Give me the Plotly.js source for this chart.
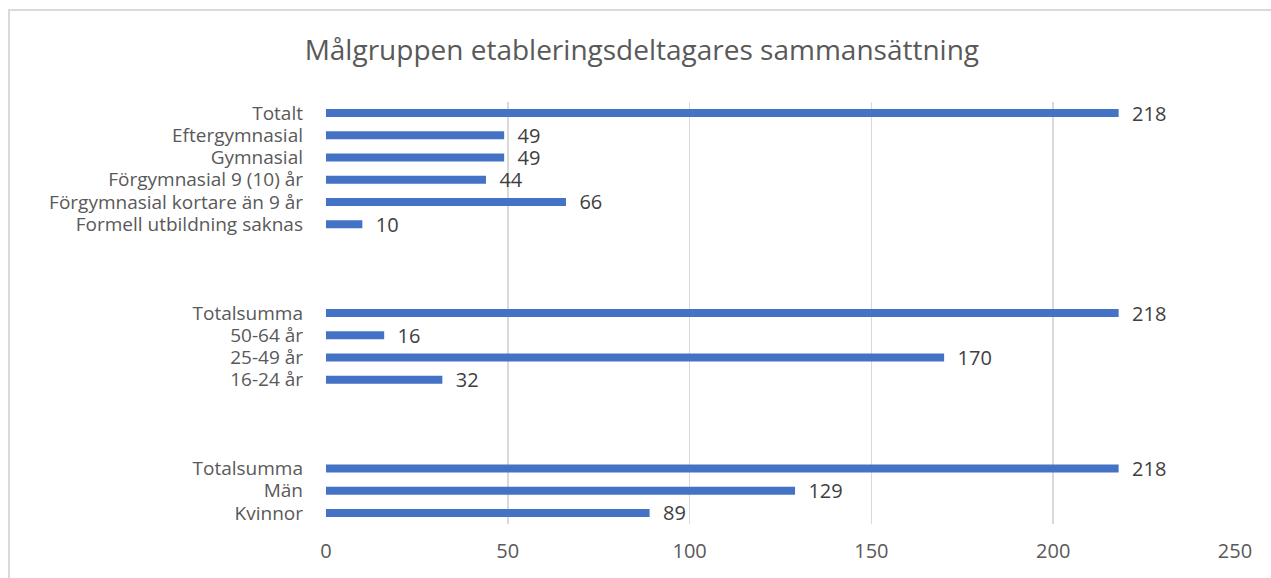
<!DOCTYPE html>
<html>
<head>
<meta charset="utf-8">
<script src="https://cdn.plot.ly/plotly-3.0.1.min.js"></script>
<style>
html,body{margin:0;padding:0;background:#fff;}
#chart{width:1271px;height:578px;}
#frame{position:absolute;left:8px;top:9px;width:1280px;height:600px;border-left:2px solid #d9d9d9;border-top:2px solid #d9d9d9;pointer-events:none;}
</style>
</head>
<body>
<div id="chart"></div>
<div id="frame"></div>
<script>
// Categories listed top to bottom (blank entries are the gaps between groups)
const categories = [
  "Totalt",
  "Eftergymnasial",
  "Gymnasial",
  "Förgymnasial 9 (10) år",
  "Förgymnasial kortare än 9 år",
  "Formell utbildning saknas",
  " ", "  ", "   ",
  "Totalsumma",
  "50-64 år",
  "25-49 år",
  "16-24 år",
  "    ", "     ", "      ",
  "Totalsumma\u200b",
  "Män",
  "Kvinnor"
];
const values = [218, 49, 49, 44, 66, 10, null, null, null, 218, 16, 170, 32, null, null, null, 218, 129, 89];
const xTicks = [0, 50, 100, 150, 200, 250];

const labels = values.map(v => v === null ? "" : "\u00a0\u00a0" + v);

const trace = {
  type: "bar",
  orientation: "h",
  y: categories,
  x: values,
  text: labels,
  textposition: "outside",
  constraintext: "none",
  textfont: {family: "Open Sans", size: 20, color: "#404040"},
  cliponaxis: false,
  marker: {color: "#4472C4"},
  hoverinfo: "none"
};

const layout = {
  width: 1271,
  height: 578,
  margin: {l: 326, r: 36, t: 102, b: 54},
  paper_bgcolor: "#ffffff",
  plot_bgcolor: "#ffffff",
  bargap: 0.64,
  showlegend: false,
  title: {
    text: "Målgruppen etableringsdeltagares sammansättning",
    font: {family: "Open Sans", size: 28, color: "#595959"},
    x: 0.505, xanchor: "center",
    y: 1 - 50/578, yanchor: "middle", yref: "container"
  },
  xaxis: {
    range: [0, 250],
    tickvals: xTicks,
    ticktext: xTicks.map(String),
    showgrid: true,
    gridcolor: "#d9d9d9",
    gridwidth: 1.5,
    zeroline: false,
    showline: false,
    ticks: "",
    ticklabelstandoff: 13,
    tickfont: {family: "Open Sans", size: 20, color: "#595959"},
    fixedrange: true
  },
  yaxis: {
    type: "category",
    categoryorder: "array",
    categoryarray: categories,
    tickmode: "array",
    tickvals: categories,
    ticktext: categories,
    autorange: "reversed",
    showgrid: false,
    zeroline: false,
    showline: false,
    ticks: "",
    ticklabelstandoff: 22,
    tickfont: {family: "Open Sans", size: 19, color: "#595959"},
    fixedrange: true
  }
};

Plotly.newPlot("chart", [trace], layout, {displayModeBar: false, staticPlot: true});
</script>
</body>
</html>
